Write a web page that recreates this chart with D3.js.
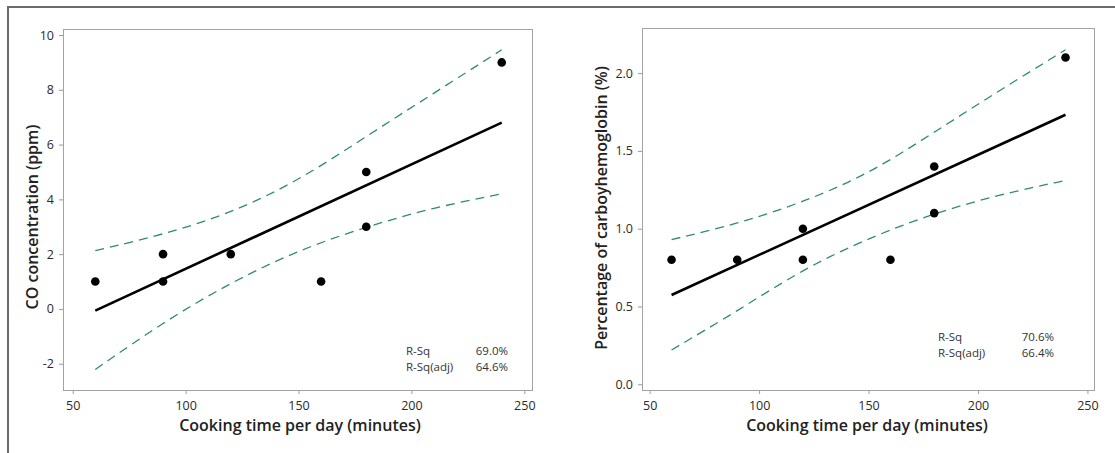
<!DOCTYPE html>
<html>
<head>
<meta charset="utf-8">
<script src="https://cdn.jsdelivr.net/npm/d3@7"></script>
<style>
  html, body { margin: 0; padding: 0; background: #fff; }
  svg { display: block; }
</style>
</head>
<body>
<div id="chart"></div>
<script>
// left panel: CO concentration
const cookTimeA = [60, 90, 90, 120, 160, 180, 180, 240];
const coPpm = [1, 2, 1, 2, 1, 5, 3, 9];
const coFit = [-0.06, 6.80];
const coUpper = [2.13, 2.71, 3.49, 4.68, 6.30, 7.88, 9.46];
const coLower = [-2.21, -0.49, 0.97, 2.15, 3.00, 3.71, 4.20];
const coTicks = [-2, 0, 2, 4, 6, 8, 10];
const coStats = [["R-Sq", "69.0%"], ["R-Sq(adj)", "64.6%"]];

// right panel: carboxyhemoglobin
const cookTimeB = [60, 90, 120, 120, 160, 180, 180, 240];
const cohbPct = [0.8, 0.8, 1.0, 0.8, 0.8, 1.4, 1.1, 2.1];
const cohbFit = [0.574, 1.732];
const cohbUpper = [0.93, 1.03, 1.17, 1.35, 1.62, 1.89, 2.15];
const cohbLower = [0.22, 0.47, 0.74, 0.94, 1.10, 1.22, 1.31];
const cohbTicks = [0, 0.5, 1.0, 1.5, 2.0];
const cohbStats = [["R-Sq", "70.6%"], ["R-Sq(adj)", "66.4%"]];

// shared
const fitX = [60, 240];
const bandX = [60, 90, 120, 150, 180, 210, 240];
const timeTicks = [50, 100, 150, 200, 250];
const xTitle = "Cooking time per day (minutes)";

const font = "'Open Sans', 'Noto Sans', sans-serif";
const bandColour = "#2f8c6e";

const svg = d3.select("#chart")
  .append("svg")
  .attr("width", 1115)
  .attr("height", 453)
  .attr("font-family", font);

// outer frame (only top and left edges are in view)
svg.append("path")
  .attr("d", "M8,453 L8,7 L1115,7")
  .attr("fill", "none")
  .attr("stroke", "#6b6b6b")
  .attr("stroke-width", 2);

const drawPanel = ({
  left, top, right, bottom,
  xDomain, yDomain,
  xs, ys, fit, upper, lower,
  yTicks, yFormat = d => String(d), // plain hyphen like the original
  yTitle, yTitleX, yTitleY, xTitleX,
  stats, statX, statValX, statY
}) => {
  const x = d3.scaleLinear().domain(xDomain).range([left, right]);
  const y = d3.scaleLinear().domain(yDomain).range([bottom, top]);

  const g = svg.append("g");

  // axes
  const xAxis = g.append("g")
    .attr("transform", `translate(0,${bottom})`)
    .call(d3.axisBottom(x).tickValues(timeTicks).tickSize(4).tickPadding(7).tickFormat(d => String(d)));
  const yAxis = g.append("g")
    .attr("transform", `translate(${left},0)`)
    .call(d3.axisLeft(y).tickValues(yTicks).tickSize(4).tickPadding(5).tickFormat(yFormat));

  [xAxis, yAxis].forEach(a => {
    a.select(".domain").remove();
    a.selectAll(".tick line").attr("stroke", "#9a9a9a");
    a.selectAll(".tick text")
      .attr("font-family", font)
      .attr("font-size", 12.5)
      .attr("fill", "#2a2a2a");
  });

  // plot box
  g.append("rect")
    .attr("x", left + 0.5)
    .attr("y", top + 0.5)
    .attr("width", right - left)
    .attr("height", bottom - top)
    .attr("fill", "none")
    .attr("stroke", "#a3a3a3")
    .attr("stroke-width", 1);

  // confidence bands
  const band = d3.line()
    .x((d, i) => x(bandX[i]))
    .y(d => y(d))
    .curve(d3.curveBasis);

  [upper, lower].forEach(vals => {
    g.append("path")
      .attr("d", band(vals))
      .attr("fill", "none")
      .attr("stroke", bandColour)
      .attr("stroke-width", 1.3)
      .attr("stroke-dasharray", "9,6");
  });

  // fitted line
  g.append("path")
    .attr("d", d3.line().x((d, i) => x(fitX[i])).y(d => y(d))(fit))
    .attr("fill", "none")
    .attr("stroke", "#000")
    .attr("stroke-width", 2.6);

  // points
  g.selectAll("circle")
    .data(xs)
    .join("circle")
    .attr("cx", d => x(d))
    .attr("cy", (d, i) => y(ys[i]))
    .attr("r", 4.3)
    .attr("fill", "#000");

  // titles
  g.append("text")
    .attr("x", xTitleX)
    .attr("y", 431)
    .attr("text-anchor", "middle")
    .attr("font-size", 16)
    .attr("font-weight", 600)
    .attr("fill", "#222")
    .text(xTitle);

  g.append("text")
    .attr("transform", `translate(${yTitleX},${yTitleY}) rotate(-90)`)
    .attr("text-anchor", "middle")
    .attr("dy", "0.35em")
    .attr("font-size", 16)
    .attr("font-weight", 600)
    .attr("fill", "#222")
    .text(yTitle);

  // R-Sq box
  stats.forEach(([label, val], i) => {
    g.append("text")
      .attr("x", statX)
      .attr("y", statY + i * 15.5)
      .attr("font-size", 11.5)
      .attr("fill", "#333")
      .text(label);
    g.append("text")
      .attr("x", statValX)
      .attr("y", statY + i * 15.5)
      .attr("text-anchor", "end")
      .attr("font-size", 11.5)
      .attr("fill", "#333")
      .text(val);
  });
};

drawPanel({
  left: 63, top: 29, right: 532, bottom: 390,
  xDomain: [45.7, 253.4], yDomain: [-2.96, 10.22],
  xs: cookTimeA, ys: coPpm, fit: coFit, upper: coUpper, lower: coLower,
  yTicks: coTicks,
  yTitle: "CO concentration (ppm)", yTitleX: 32, yTitleY: 217, xTitleX: 300,
  stats: coStats, statX: 406, statValX: 508, statY: 355
});

drawPanel({
  left: 642, top: 28, right: 1094, bottom: 390,
  xDomain: [46.5, 253], yDomain: [-0.037, 2.29],
  xs: cookTimeB, ys: cohbPct, fit: cohbFit, upper: cohbUpper, lower: cohbLower,
  yTicks: cohbTicks, yFormat: d3.format(".1f"),
  yTitle: "Percentage of carboyhemoglobin (%)", yTitleX: 601, yTitleY: 208, xTitleX: 867,
  stats: cohbStats, statX: 938, statValX: 1054, statY: 341
});
</script>
</body>
</html>
